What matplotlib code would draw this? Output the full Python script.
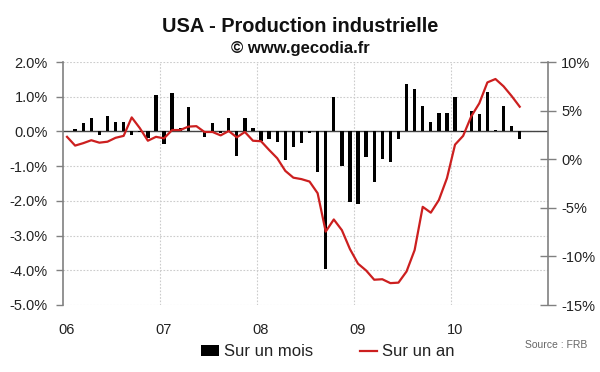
import matplotlib
matplotlib.use("Agg")
import matplotlib.pyplot as plt
import numpy as np
from matplotlib.ticker import FixedLocator, FuncFormatter

plt.rcParams['font.family'] = ['Liberation Sans', 'DejaVu Sans']

# Monthly data Jan 2006 - Sep 2010
monthly = [0.02, 0.08, 0.24, 0.40, -0.10, 0.45, 0.27, 0.27, -0.10, -0.03, -0.18, 1.04,
           -0.35, 1.10, 0.09, 0.70, 0.02, -0.15, 0.24, -0.04, 0.40, -0.72, 0.40, 0.10,
           -0.28, -0.21, -0.30, -0.82, -0.44, -0.34, -0.04, -1.17, -3.97, 0.98, -1.00, -2.03,
           -2.09, -0.75, -1.46, -0.79, -0.88, -0.21, 1.38, 1.23, 0.73, 0.26, 0.53, 0.53,
           1.00, -0.02, 0.58, 0.51, 1.15, 0.05, 0.72, 0.17, -0.22]
yearly = [2.3, 1.4, 1.65, 1.95, 1.7, 1.8, 2.2, 2.4, 4.3, 3.2, 1.9, 2.3,
          2.15, 3.0, 3.0, 3.35, 3.4, 2.8, 2.8, 2.45, 2.9, 2.25, 2.8, 1.9,
          1.85, 0.95, 0.1, -1.2, -1.9, -2.05, -2.3, -3.5, -7.45, -6.2, -7.3, -9.25,
          -10.75, -11.45, -12.4, -12.35, -12.75, -12.7, -11.55, -9.35, -4.9, -5.5, -4.2, -1.95,
          1.5, 2.4, 4.4, 5.75, 7.9, 8.25, 7.5, 6.5, 5.4]
year_labels = ['06', '07', '08', '09', '10']
left_ticks = [-5, -4, -3, -2, -1, 0, 1, 2]
right_ticks = [-15, -10, -5, 0, 5, 10]

x = np.arange(len(monthly)) + 0.5

fig = plt.figure(figsize=(6, 3.72), dpi=100)
ax = fig.add_axes([63/600, 1-305/372, (548-63)/600, (305-62)/372])
ax2 = ax.twinx()

grid_c = '#cccccc'
spine_c = '#808080'
text_c = '#222222'

bars = ax.bar(x, monthly, width=0.42, color='black', zorder=3, label='Sur un mois')
ax.axhline(0, color='#444444', lw=1.0, zorder=2)
ax.set_xlim(0, 60)
ax.set_ylim(-5, 2)
ax.yaxis.set_major_locator(FixedLocator(left_ticks))
ax.yaxis.set_major_formatter(FuncFormatter(lambda v, p: f"{v:.1f}%"))
for v in left_ticks:
    ax.axhline(v, color=grid_c, lw=0.8, ls=(0, (1.5, 1.5)), zorder=1)
for k in range(1, 5):
    ax.axvline(12*k, color=grid_c, lw=0.8, ls=(0, (1.5, 1.5)), zorder=1)
ax.set_xticks([12*k + 0.45 for k in range(5)])
ax.set_xticklabels(year_labels)
ax.tick_params(axis='x', length=0, pad=13, labelsize=10.5, labelcolor=text_c)
ax.tick_params(axis='y', direction='out', length=5, width=1, color=spine_c, pad=6,
               labelsize=10.5, labelcolor=text_c)

line, = ax2.plot(x, yearly, color='#cc1f1f', lw=1.6, zorder=4, label='Sur un an')
ax2.set_ylim(-15, 10)
ax2.yaxis.set_major_locator(FixedLocator(right_ticks))
ax2.yaxis.set_major_formatter(FuncFormatter(lambda v, p: f"{v:.0f}%"))
ax2.tick_params(axis='y', direction='inout', length=11, width=1, color=spine_c, pad=4,
                labelsize=10.5, labelcolor=text_c)

for a in (ax, ax2):
    for s in ('top', 'bottom'):
        a.spines[s].set_visible(False)
ax.spines['right'].set_visible(False)
ax2.spines['left'].set_visible(False)
ax.spines['left'].set_color(spine_c)
ax2.spines['right'].set_color(spine_c)
ax.spines['left'].set_linewidth(1.2)
ax2.spines['right'].set_linewidth(1.2)

fig.text(0.5, 1-27/372, 'USA - Production industrielle', ha='center', va='center',
         fontsize=14.4, weight='bold', color='#111111')
fig.text(0.5, 1-49/372, '© www.gecodia.fr', ha='center', va='center',
         fontsize=12, weight='bold', color='#111111')

fig.legend(handles=[bars, line], loc='center', bbox_to_anchor=(328/600, 1-352/372),
           ncol=2, frameon=False, fontsize=12, handlelength=1.05, handleheight=0.65,
           handletextpad=0.3, columnspacing=2.8, labelcolor=text_c)
fig.text(587/600, 1-345/372, 'Source : FRB', ha='right', va='center', fontsize=7.5,
         color='#666666')

fig.savefig('out.png', dpi=100)
